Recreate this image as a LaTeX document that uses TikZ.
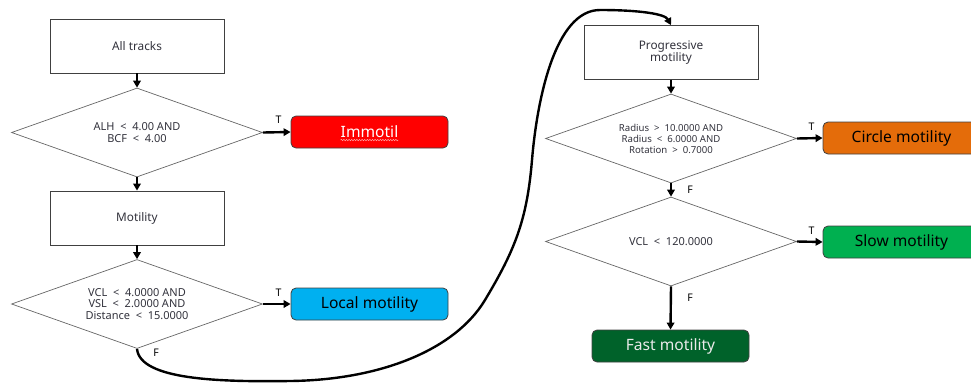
\documentclass[tikz,border=0pt]{standalone}
\usepackage{fontspec}
\setmainfont{Noto Sans}
\usetikzlibrary{shapes.geometric,arrows.meta,decorations.pathmorphing}

\definecolor{immred}{RGB}{255,0,0}
\definecolor{localblue}{RGB}{0,176,240}
\definecolor{circorange}{RGB}{228,108,10}
\definecolor{slowgreen}{RGB}{0,176,80}
\definecolor{fastgreen}{RGB}{0,98,42}
\definecolor{edgegray}{RGB}{64,64,64}
\definecolor{txtgray}{RGB}{50,50,60}

\begin{document}
\begin{tikzpicture}[x=1pt,y=-1pt,
  proc/.style={draw=edgegray, line width=0.8pt, fill=white,
    minimum width=174pt, minimum height=54pt, inner sep=0pt,
    text=txtgray, align=center, font=\fontsize{11.8}{12.7}\selectfont},
  cond/.style={diamond, draw=black!60, line width=0.7pt, aspect=2.82,
    minimum width=251pt, minimum height=89pt, inner sep=0pt,
    text=txtgray, align=center, font=\fontsize{11}{11.3}\selectfont},
  result/.style={draw=edgegray, line width=0.8pt, rounded corners=5pt,
    minimum width=157pt, minimum height=32pt, inner sep=0pt,
    font=\fontsize{15.6}{18}\selectfont},
  flow/.style={-{Triangle[length=7pt,width=7.5pt]}, line width=2.4pt},
  lbl/.style={font=\fontsize{10.5}{12}\selectfont, inner sep=0pt, text=black},
]
\useasboundingbox (0,0) rectangle (971,383);
\clip (0,0) rectangle (971,383);

% left column
\node[proc] (all) at (137,46) {All tracks};
\node[cond] (d1) at (137,132.5) {ALH\ \ <\ \ 4.00 AND\\BCF\ \ <\ \ 4.00};
\node[result, fill=immred] (imm) at (369.5,132) {};
\node[font=\fontsize{15.6}{18}\selectfont, text=white, inner sep=0pt] (immtxt) at (imm) {Immotil};
\node[proc] (mot) at (137,218) {Motility};
\node[cond] (d2) at (137,304) {VCL\ \ <\ \ 4.0000 AND\\VSL\ \ <\ \ 2.0000 AND\\Distance\ \ <\ \ 15.0000};
\node[result, fill=localblue, text=black] (loc) at (369.5,304) {Local motility};

% right column
\node[proc] (prog) at (671,52.5) {Progressive\\motility};
\node[cond, font=\fontsize{9.6}{11}\selectfont] (d3) at (671,138.5)
  {Radius\ \ >\ \ 10.0000 AND\\Radius\ \ <\ \ 6.0000 AND\\Rotation\ \ >\ \ 0.7000};
\node[result, fill=circorange, text=black] (circ) at (901.5,138) {Circle motility};
\node[cond] (d4) at (671,241.5) {VCL\ \ <\ \ 120.0000};
\node[result, fill=slowgreen, text=black] (slow) at (901.5,242) {Slow motility};
\node[result, fill=fastgreen, text=white!92!black] (fast) at (670.5,346) {Fast motility};

% spell-check squiggle under the red label
\draw[red!35!white, line width=0.5pt, decorate,
  decoration={snake, amplitude=0.7pt, segment length=2.6pt}]
  ([yshift=-2.2pt]immtxt.base west) -- ([yshift=-2.2pt]immtxt.base east);

% connectors
\draw[flow] (all) -- (d1);
\draw[flow] (d1) -- (mot);
\draw[flow] (mot) -- (d2);
\draw[flow] (d1.east) -- (imm.west);
\draw[flow] (d2.east) -- (loc.west);
\draw[flow] (prog) -- (d3);
\draw[flow] (d3.east) -- (circ.west);
\draw[flow] (d3.south) -- (d4.north);
\draw[flow] (d4.east) -- (slow.west);
\draw[flow] (d4.south) -- (fast.north);
\draw[flow] (d2.south)
  .. controls (140,380) and (220,382) .. (290,381)
  .. controls (380,380) and (455,350) .. (485,300)
  .. controls (515,250) and (527,220) .. (532,160)
  .. controls (537,100) and (555,10) .. (600,10)
  .. controls (640,10) and (665,14) .. (prog.north);

% branch labels
\node[lbl] (t1) at (278.5,120) {T};
\node[lbl] (t2) at (278.5,292.5) {T};
\node[lbl] (t3) at (811.5,127) {T};
\node[lbl] (t4) at (811.5,231) {T};
\node[lbl] (f1) at (156,352.5) {F};
\node[lbl] (f2) at (690,190) {F};
\node[lbl] (f3) at (690,298) {F};
\end{tikzpicture}
\end{document}
